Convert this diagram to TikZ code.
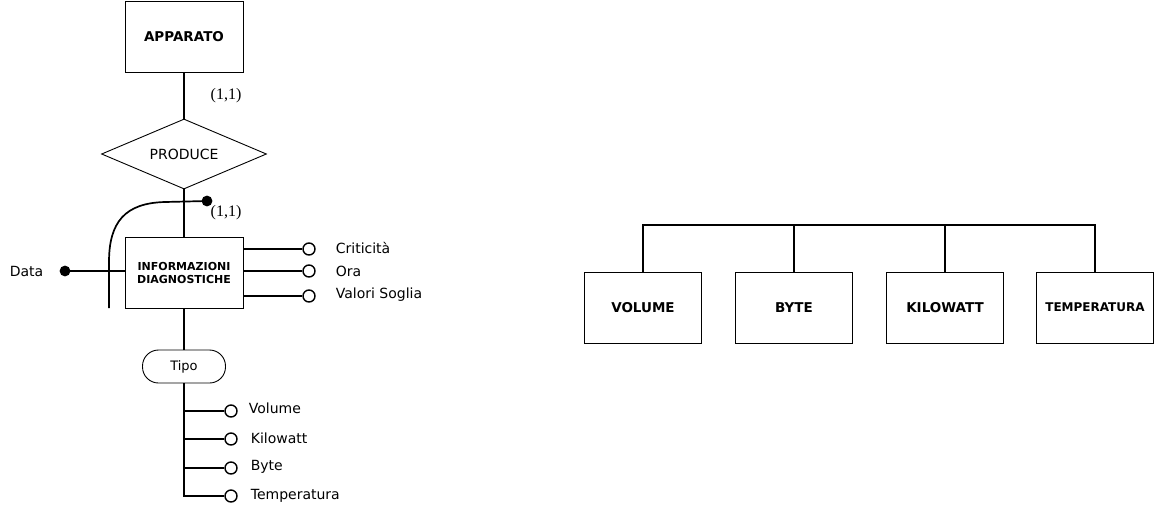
\documentclass[tikz,border=0pt]{standalone}
\usepackage{fontspec}
\setmainfont{DejaVu Sans}
\newfontfamily\serifnum{Liberation Serif}
\usetikzlibrary{shapes.geometric,calc}
\begin{document}
\begin{tikzpicture}[x=1pt,y=-1pt,line width=1.7pt,
  entity/.style={draw,rectangle,minimum width=118pt,minimum height=71pt,inner sep=0pt,line width=0.9pt,font=\bfseries\fontsize{13.5}{15}\selectfont},
  rel/.style={draw,diamond,aspect=2.36,minimum width=165pt,minimum height=70pt,inner sep=0pt,line width=0.9pt,font=\fontsize{14}{16}\selectfont},
  attr/.style={draw,circle,minimum size=12pt,inner sep=0pt,line width=1.4pt,fill=white},
  keyattr/.style={draw,circle,minimum size=9pt,inner sep=0pt,fill=black},
  lbl/.style={anchor=west,inner sep=0pt,font=\fontsize{14}{16}\selectfont},
  card/.style={inner sep=0pt,font=\serifnum\fontsize{16}{18}\selectfont},
  tipobox/.style={draw,rectangle,rounded corners=16pt,minimum width=83pt,minimum height=33pt,inner sep=0pt,line width=0.9pt,font=\fontsize{13}{15}\selectfont}
]
\useasboundingbox (0,0) rectangle (1156,515);

% left ER part
\node[entity] (apparato) at (184,36.5) {APPARATO};
\node[rel] (produce) at (184,154) {PRODUCE};
\node[entity,font=\bfseries\fontsize{11}{13}\selectfont,align=center] (info) at (184,272.5) {INFORMAZIONI\\DIAGNOSTICHE};
\node[tipobox] (tipo) at (184,366.5) {Tipo};

\draw (apparato.south) -- (produce.north);
\draw (produce.south) -- (info.north);
\draw (info.south) -- (tipo.north);

\node[card] (c1) at (226,96) {(1,1)};
\node[card] (c2) at (226,213) {(1,1)};

% identifier curve
\node[keyattr] (iddot) at (207,201) {};
\coordinate (idend) at (109,308);
\draw (iddot.center) -- (165,202) .. controls (125,203) and (109,222) .. (109,262) -- (idend);

% Data key attribute
\node[keyattr] (datadot) at (65,271) {};
\draw (datadot.center) -- (datadot.center -| info.west);
\node[lbl] (datal) at (9,271) {Data};

% attributes right
\node[attr] (a1) at (309,249) {};
\node[attr] (a2) at (309,271) {};
\node[attr] (a3) at (309,296) {};
\draw (a1.west -| info.east) -- (a1.west);
\draw (a2.west -| info.east) -- (a2.west);
\draw (a3.west -| info.east) -- (a3.west);
\node[lbl] (a1l) at (335,248) {Criticità};
\node[lbl] (a2l) at (335,271) {Ora};
\node[lbl] (a3l) at (335,295) {Valori Soglia};

% Tipo subattributes
\node[attr] (t1) at (231,411) {};
\node[attr] (t2) at (231,439) {};
\node[attr] (t3) at (231,468) {};
\node[attr] (t4) at (231,496) {};
\coordinate (tbot) at (184,496);
\draw (tipo.south) -- (tbot) -- (t4.west);
\draw (t1.west -| tbot) -- (t1.west);
\draw (t2.west -| tbot) -- (t2.west);
\draw (t3.west -| tbot) -- (t3.west);
\node[lbl] (t1l) at (248,408) {Volume};
\node[lbl] (t2l) at (250,438) {Kilowatt};
\node[lbl] (t3l) at (250,467) {Byte};
\node[lbl] (t4l) at (250,496) {Temperatura};

% right hierarchy
\node[entity,minimum width=117pt] (b1) at (643,307.5) {VOLUME};
\node[entity,minimum width=117pt] (b2) at (794,307.5) {BYTE};
\node[entity,minimum width=117pt] (b3) at (945,307.5) {KILOWATT};
\node[entity,minimum width=117pt,font=\bfseries\fontsize{12}{14}\selectfont] (b4) at (1095,307.5) {TEMPERATURA};
\coordinate (bar) at (0,225);
\draw (b1.north) -- (b1.north |- bar) -- (b4.north |- bar) -- (b4.north);
\draw (b2.north) -- (b2.north |- bar);
\draw (b3.north) -- (b3.north |- bar);
\end{tikzpicture}
\end{document}
